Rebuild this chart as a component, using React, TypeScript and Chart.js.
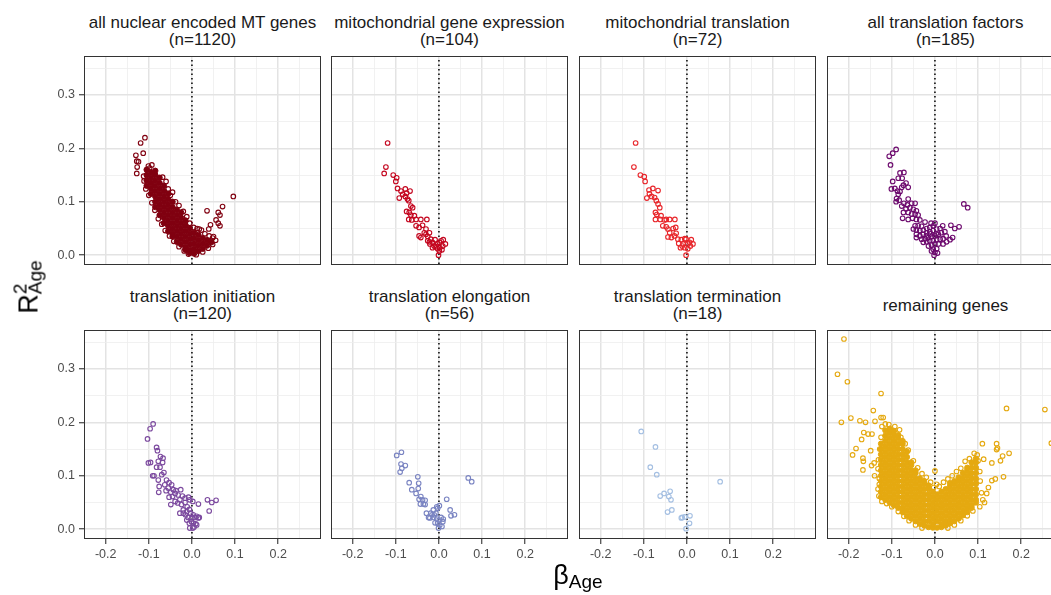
import React, { useEffect, useRef } from "react";
import { Chart, registerables } from "chart.js";

Chart.register(...registerables);

const FONT = '"Liberation Sans", Arial, Helvetica, sans-serif';

// ---------- data ----------
const PANEL_TITLES: string[][] = [
  ["all nuclear encoded MT genes", "(n=1120)"],
  ["mitochondrial gene expression", "(n=104)"],
  ["mitochondrial translation", "(n=72)"],
  ["all translation factors", "(n=185)"],
  ["translation initiation", "(n=120)"],
  ["translation elongation", "(n=56)"],
  ["translation termination", "(n=18)"],
  ["remaining genes"],
];

const PANEL_COLORS = [
  "#800010",
  "#c4061f",
  "#e8262b",
  "#6d0a6e",
  "#7c4a9f",
  "#7a84c2",
  "#a4bfe2",
  "#e5a910",
];

const X_MIN = -0.248;
const X_MAX = 0.297;
const Y_MIN = -0.0165;
const Y_MAX = 0.371;
const X_TICKS = [-0.2, -0.15, -0.1, -0.05, 0, 0.05, 0.1, 0.15, 0.2, 0.25];
const X_MAJOR = [-0.2, -0.1, 0, 0.1, 0.2];
const Y_TICKS = [0, 0.05, 0.1, 0.15, 0.2, 0.25, 0.3, 0.35];
const Y_MAJOR = [0, 0.1, 0.2, 0.3];
const VLINE_X = 0;

// panel 1: all nuclear encoded MT genes
const P1_POINTS: number[][] = [
  [-0.109, 0.22], [-0.119, 0.21], [-0.113, 0.191], [-0.13, 0.187], [-0.128, 0.176], [-0.124, 0.175],
  [-0.127, 0.165], [-0.128, 0.153], [-0.101, 0.167], [-0.093, 0.169], [-0.098, 0.163], [-0.111, 0.139],
  [-0.107, 0.124], [-0.096, 0.13], [-0.101, 0.156], [-0.112, 0.148], [-0.055, 0.124], [-0.06, 0.138],
  [-0.068, 0.146], [-0.05, 0.112], [-0.045, 0.118], [-0.038, 0.1], [-0.03, 0.093], [-0.02, 0.082],
  [-0.012, 0.072], [-0.005, 0.06], [0.004, 0.052], [0.012, 0.05], [0.022, 0.047], [0.03, 0.04],
  [0.04, 0.036], [0.048, 0.032], [0.055, 0.028], [-0.1, 0.112], [-0.093, 0.098], [-0.086, 0.084],
  [-0.078, 0.068], [-0.07, 0.058], [-0.062, 0.046], [-0.052, 0.036], [-0.042, 0.026], [-0.03, 0.016],
  [-0.018, 0.008], [-0.008, 0.002], [0.01, 0.001], [0.025, 0.006], [0.038, 0.013], [0.048, 0.02],
  [0.035, 0.083], [0.061, 0.08], [0.065, 0.075], [0.071, 0.091], [0.096, 0.11], [0.056, 0.066],
  [0.061, 0.06], [0.065, 0.055], [0.043, 0.057], [0.039, 0.049], [0.017, 0.049], [0.043, 0.027],
  [0.05, 0.035],
];
const P1_CORE_X = [-0.105, -0.095, -0.085, -0.075, -0.065, -0.055, -0.045, -0.035, -0.025, -0.015, -0.005, 0.005, 0.015, 0.025, 0.035, 0.045];
const P1_CORE_Y: number[][] = [
  [0.13, 0.14, 0.15, 0.16],
  [0.115, 0.125, 0.135, 0.145, 0.155],
  [0.09, 0.1, 0.11, 0.12, 0.13, 0.14, 0.15, 0.158],
  [0.075, 0.085, 0.095, 0.105, 0.115, 0.125, 0.135, 0.145],
  [0.06, 0.07, 0.08, 0.09, 0.1, 0.11, 0.12, 0.13],
  [0.045, 0.055, 0.065, 0.075, 0.085, 0.095, 0.105, 0.115],
  [0.035, 0.04, 0.05, 0.06, 0.07, 0.08, 0.09, 0.1],
  [0.025, 0.035, 0.045, 0.055, 0.065, 0.075, 0.085],
  [0.02, 0.03, 0.04, 0.05, 0.06, 0.07, 0.08],
  [0.01, 0.015, 0.025, 0.035, 0.045, 0.055, 0.065],
  [0.004, 0.01, 0.02, 0.03, 0.04, 0.05],
  [0.003, 0.012, 0.022, 0.032, 0.042],
  [0.008, 0.018, 0.028, 0.038],
  [0.012, 0.022, 0.032],
  [0.018, 0.028],
  [0.024],
];

// panel 2: mitochondrial gene expression
const P2_POINTS: number[][] = [
  [-0.119, 0.21], [-0.123, 0.165], [-0.127, 0.153], [-0.106, 0.15], [-0.098, 0.145], [-0.1, 0.138],
  [-0.096, 0.125], [-0.088, 0.12], [-0.078, 0.124], [-0.067, 0.12], [-0.075, 0.116], [-0.084, 0.114],
  [-0.092, 0.107], [-0.078, 0.11], [-0.073, 0.105], [-0.07, 0.102], [-0.065, 0.092], [-0.061, 0.089],
  [-0.069, 0.08], [-0.075, 0.082], [-0.065, 0.075], [-0.07, 0.067], [-0.057, 0.074], [-0.063, 0.066],
  [-0.053, 0.067], [-0.042, 0.067], [-0.028, 0.067], [-0.053, 0.055], [-0.046, 0.052], [-0.038, 0.056],
  [-0.03, 0.049], [-0.034, 0.042], [-0.046, 0.036], [-0.042, 0.033], [-0.03, 0.039], [-0.022, 0.042],
  [-0.026, 0.035], [-0.019, 0.03], [-0.022, 0.025], [-0.015, 0.024], [-0.009, 0.029], [-0.003, 0.021],
  [-0.011, 0.017], [-0.015, 0.014], [0.001, 0.024], [0.005, 0.027], [0.01, 0.029], [0.015, 0.021],
  [0.009, 0.017], [0.002, 0.014], [-0.003, 0.012], [-0.007, 0.016], [-0.001, 0.0], [0.001, 0.008],
  [0.007, 0.01], [-0.021, 0.021], [-0.026, 0.027],
];

// panel 3: mitochondrial translation
const P3_POINTS: number[][] = [
  [-0.119, 0.21], [-0.123, 0.165], [-0.108, 0.15], [-0.099, 0.147], [-0.097, 0.138], [-0.088, 0.122],
  [-0.079, 0.125], [-0.067, 0.121], [-0.087, 0.115], [-0.082, 0.11], [-0.093, 0.107], [-0.075, 0.108],
  [-0.071, 0.102], [-0.067, 0.096], [-0.063, 0.089], [-0.073, 0.08], [-0.07, 0.076], [-0.073, 0.067],
  [-0.06, 0.074], [-0.062, 0.067], [-0.052, 0.066], [-0.048, 0.067], [-0.04, 0.067], [-0.028, 0.067],
  [-0.056, 0.055], [-0.048, 0.053], [-0.044, 0.049], [-0.032, 0.05], [-0.026, 0.052], [-0.04, 0.042],
  [-0.044, 0.034], [-0.036, 0.033], [-0.029, 0.036], [-0.025, 0.041], [-0.021, 0.03], [-0.013, 0.029],
  [-0.005, 0.031], [-0.002, 0.03], [-0.019, 0.022], [-0.009, 0.021], [0.002, 0.021], [0.006, 0.024],
  [0.01, 0.029], [0.014, 0.021], [-0.005, 0.014], [0.002, 0.012], [0.008, 0.017], [-0.002, 0.0],
  [-0.015, 0.014], [-0.011, 0.017],
];

// panel 4: all translation factors
const P4_POINTS: number[][] = [
  [-0.09, 0.198], [-0.098, 0.191], [-0.106, 0.185], [-0.103, 0.169],
  [-0.081, 0.154], [-0.072, 0.155], [-0.085, 0.144], [-0.076, 0.144], [-0.098, 0.138], [-0.067, 0.135],
  [-0.073, 0.131], [-0.077, 0.127], [-0.062, 0.127], [-0.101, 0.124], [-0.093, 0.125], [-0.087, 0.12],
  [-0.081, 0.119], [-0.085, 0.114], [-0.089, 0.106], [-0.09, 0.1], [-0.083, 0.103],
  [-0.062, 0.105], [-0.072, 0.097], [-0.064, 0.094], [-0.054, 0.097], [-0.046, 0.097], [-0.077, 0.092],
  [-0.067, 0.087], [-0.058, 0.089], [-0.05, 0.086], [-0.043, 0.083], [-0.073, 0.08], [-0.062, 0.08],
  [-0.054, 0.077], [-0.046, 0.077], [-0.039, 0.075], [-0.075, 0.069], [-0.062, 0.067], [-0.052, 0.069],
  [-0.043, 0.067], [-0.035, 0.066], [-0.023, 0.062], [-0.009, 0.06], [0.0, 0.06],
  [-0.046, 0.055], [-0.039, 0.055], [-0.031, 0.054], [-0.05, 0.049], [-0.043, 0.047], [-0.035, 0.046],
  [-0.027, 0.047], [-0.019, 0.05], [-0.012, 0.052], [-0.004, 0.055], [-0.043, 0.039], [-0.035, 0.036],
  [-0.027, 0.039], [-0.019, 0.042], [-0.012, 0.044], [-0.004, 0.046], [0.004, 0.049], [0.012, 0.05],
  [-0.031, 0.03], [-0.023, 0.031], [-0.015, 0.033], [-0.008, 0.035], [0.0, 0.036], [0.008, 0.039],
  [0.015, 0.042], [0.023, 0.044], [-0.027, 0.024], [-0.019, 0.025], [-0.012, 0.027], [-0.004, 0.027],
  [0.004, 0.029], [0.012, 0.03], [0.019, 0.031], [-0.015, 0.017], [-0.008, 0.019], [0.0, 0.021],
  [0.008, 0.021], [-0.004, 0.011], [0.004, 0.012], [0.0, 0.005], [-0.002, 0.0], [-0.008, 0.008],
  [0.006, 0.004], [-0.02, 0.036], [-0.01, 0.04], [0.003, 0.04],
  [0.067, 0.096], [0.076, 0.089], [0.037, 0.056], [0.046, 0.05], [0.056, 0.053], [0.018, 0.055],
  [0.026, 0.036], [0.035, 0.029], [0.041, 0.033], [0.027, 0.025], [0.019, 0.021], [-0.043, 0.033],
];

// panel 5: translation initiation
const P5_POINTS: number[][] = [
  [-0.09, 0.197], [-0.097, 0.188], [-0.103, 0.169], [-0.082, 0.153], [-0.08, 0.147], [-0.101, 0.124],
  [-0.096, 0.125], [-0.073, 0.136], [-0.067, 0.133], [-0.078, 0.127], [-0.068, 0.125], [-0.082, 0.116],
  [-0.074, 0.116], [-0.091, 0.1], [-0.088, 0.1], [-0.065, 0.106], [-0.07, 0.102], [-0.078, 0.092],
  [-0.076, 0.08], [-0.077, 0.069],
  [-0.059, 0.092], [-0.053, 0.087], [-0.063, 0.083], [-0.055, 0.077], [-0.047, 0.083], [-0.043, 0.074],
  [-0.06, 0.072], [-0.049, 0.069], [-0.039, 0.067], [-0.037, 0.072], [-0.026, 0.074], [-0.032, 0.064],
  [-0.022, 0.062], [-0.028, 0.055], [-0.016, 0.058], [-0.045, 0.061], [-0.053, 0.06], [-0.039, 0.052],
  [-0.049, 0.046], [-0.033, 0.049], [-0.024, 0.046], [-0.016, 0.05], [-0.011, 0.042], [-0.02, 0.036],
  [-0.028, 0.03], [-0.012, 0.033], [-0.006, 0.037], [-0.003, 0.03], [0.003, 0.027], [0.0, 0.021],
  [-0.009, 0.022], [-0.015, 0.027], [0.007, 0.022], [0.011, 0.024], [0.015, 0.021], [0.017, 0.022],
  [-0.001, 0.014], [0.003, 0.011], [-0.005, 0.002], [0.002, 0.002], [0.005, 0.004], [0.009, 0.01],
  [0.011, 0.008], [-0.006, 0.011], [-0.012, 0.017], [-0.02, 0.03], [-0.008, 0.06], [-0.005, 0.055],
  [0.002, 0.052], [0.015, 0.047], [0.036, 0.055], [0.046, 0.05], [0.056, 0.054], [0.04, 0.034],
];

// panel 6: translation elongation
const P6_POINTS: number[][] = [
  [-0.098, 0.138], [-0.087, 0.144], [-0.088, 0.122], [-0.078, 0.119], [-0.086, 0.114], [-0.09, 0.107],
  [-0.049, 0.098], [-0.047, 0.086], [-0.048, 0.076], [-0.069, 0.087], [-0.063, 0.074], [-0.053, 0.067],
  [-0.042, 0.061], [-0.038, 0.055], [-0.046, 0.056], [-0.032, 0.054], [-0.043, 0.047], [-0.036, 0.047],
  [-0.032, 0.046], [-0.029, 0.03], [-0.024, 0.022], [-0.021, 0.021], [-0.016, 0.027], [-0.012, 0.022],
  [-0.007, 0.03], [-0.013, 0.036], [-0.005, 0.042], [0.001, 0.044], [-0.003, 0.039], [-0.019, 0.03],
  [-0.011, 0.027], [-0.005, 0.019], [0.001, 0.017], [0.005, 0.022], [0.009, 0.014], [-0.003, 0.011],
  [0.002, 0.008], [0.007, 0.005], [-0.009, 0.012], [-0.001, 0.002], [0.01, 0.019], [0.018, 0.056],
  [0.026, 0.036], [0.028, 0.025], [0.036, 0.027], [0.068, 0.096], [0.076, 0.089],
];

// panel 7: translation termination
const P7_POINTS: number[][] = [
  [-0.106, 0.183], [-0.073, 0.154], [-0.085, 0.116], [-0.07, 0.102], [-0.039, 0.071], [-0.053, 0.067],
  [-0.062, 0.062], [-0.042, 0.061], [-0.037, 0.055], [-0.035, 0.036], [-0.045, 0.032], [-0.011, 0.022],
  [-0.005, 0.023], [-0.013, 0.021], [0.007, 0.025], [0.006, 0.011], [-0.002, 0.001], [0.077, 0.089],
];

// panel 8: remaining genes
const P8_POINTS: number[][] = [
  [-0.211, 0.356], [-0.226, 0.29], [-0.203, 0.276], [-0.125, 0.254], [-0.143, 0.222], [-0.195, 0.208],
  [-0.217, 0.2], [-0.174, 0.203], [-0.161, 0.2], [-0.139, 0.202], [-0.125, 0.209], [-0.12, 0.209],
  [-0.17, 0.168], [-0.165, 0.181], [-0.155, 0.178], [-0.146, 0.178], [-0.183, 0.151], [-0.191, 0.139],
  [-0.167, 0.133], [-0.166, 0.127], [-0.167, 0.111], [-0.149, 0.147], [-0.141, 0.124], [-0.147, 0.119],
  [-0.14, 0.1], [-0.129, 0.084], [-0.132, 0.113],
  [0.166, 0.226], [0.255, 0.224], [0.27, 0.161], [0.11, 0.16], [0.143, 0.16], [0.145, 0.152],
  [0.143, 0.149], [0.172, 0.142], [0.157, 0.137], [0.152, 0.128], [0.098, 0.139], [0.113, 0.131],
  [0.132, 0.124], [0.07, 0.127], [0.159, 0.098], [0.14, 0.094], [0.132, 0.091], [0.124, 0.078],
  [0.12, 0.067], [0.115, 0.05], [0.0, 0.109],
  [-0.123, 0.192], [-0.115, 0.197], [-0.107, 0.196], [-0.093, 0.192], [-0.082, 0.186], [-0.079, 0.172],
  [-0.069, 0.16], [-0.062, 0.148], [-0.05, 0.128], [-0.04, 0.115], [-0.03, 0.104], [-0.02, 0.097],
  [-0.01, 0.088], [-0.003, 0.078], [0.01, 0.08], [0.02, 0.088], [0.03, 0.094], [0.04, 0.1],
  [0.05, 0.108], [0.06, 0.114], [0.08, 0.132], [0.091, 0.142], [0.1, 0.128], [0.104, 0.108],
  [0.105, 0.09], [0.108, 0.068], [0.111, 0.055], [0.104, 0.042], [0.088, 0.034], [0.075, 0.025],
  [0.06, 0.016], [0.045, 0.008], [0.03, 0.002], [-0.03, 0.002], [-0.045, 0.008], [-0.06, 0.016],
  [-0.072, 0.024], [-0.085, 0.033], [-0.1, 0.042], [-0.112, 0.048], [-0.123, 0.052], [-0.13, 0.062],
  [-0.132, 0.075], [-0.129, 0.095], [-0.131, 0.13], [-0.128, 0.15], [-0.125, 0.172], [0.004, 0.084],
];
const P8_CORE_X = [-0.125, -0.115, -0.105, -0.095, -0.085, -0.075, -0.065, -0.055, -0.045, -0.035, -0.025, -0.015, -0.005, 0.005, 0.015, 0.025, 0.035, 0.045, 0.055, 0.065, 0.075, 0.085, 0.095];
const P8_CORE_Y: number[][] = [
  [0.06, 0.07, 0.08, 0.09, 0.1, 0.11, 0.12, 0.13, 0.14, 0.15, 0.16],
  [0.055, 0.065, 0.075, 0.085, 0.095, 0.105, 0.115, 0.125, 0.135, 0.145, 0.155, 0.165, 0.175, 0.185],
  [0.05, 0.06, 0.07, 0.08, 0.09, 0.1, 0.11, 0.12, 0.13, 0.14, 0.15, 0.16, 0.17, 0.18, 0.188],
  [0.045, 0.055, 0.065, 0.075, 0.085, 0.095, 0.105, 0.115, 0.125, 0.135, 0.145, 0.155, 0.165, 0.175, 0.184],
  [0.04, 0.05, 0.06, 0.07, 0.08, 0.09, 0.1, 0.11, 0.12, 0.13, 0.14, 0.15, 0.16, 0.17, 0.176],
  [0.032, 0.04, 0.05, 0.06, 0.07, 0.08, 0.09, 0.1, 0.11, 0.12, 0.13, 0.14, 0.15, 0.16, 0.165],
  [0.025, 0.035, 0.045, 0.055, 0.065, 0.075, 0.085, 0.095, 0.105, 0.115, 0.125, 0.135, 0.145],
  [0.02, 0.03, 0.04, 0.05, 0.06, 0.07, 0.08, 0.09, 0.1, 0.11, 0.12, 0.125],
  [0.015, 0.025, 0.035, 0.045, 0.055, 0.065, 0.075, 0.085, 0.095, 0.105, 0.11],
  [0.01, 0.02, 0.03, 0.04, 0.05, 0.06, 0.07, 0.08, 0.09, 0.095],
  [0.007, 0.015, 0.025, 0.035, 0.045, 0.055, 0.065, 0.075, 0.085, 0.09],
  [0.004, 0.015, 0.025, 0.035, 0.045, 0.055, 0.065, 0.075, 0.082],
  [0.003, 0.01, 0.02, 0.03, 0.04, 0.05, 0.06, 0.07],
  [0.003, 0.015, 0.025, 0.035, 0.045, 0.055, 0.065],
  [0.004, 0.01, 0.02, 0.03, 0.04, 0.05, 0.06, 0.07],
  [0.007, 0.015, 0.025, 0.035, 0.045, 0.055, 0.065, 0.075],
  [0.011, 0.02, 0.03, 0.04, 0.05, 0.06, 0.07, 0.08, 0.086],
  [0.015, 0.025, 0.035, 0.045, 0.055, 0.065, 0.075, 0.085, 0.09],
  [0.02, 0.03, 0.04, 0.05, 0.06, 0.07, 0.08, 0.09, 0.097],
  [0.026, 0.035, 0.045, 0.055, 0.065, 0.075, 0.085, 0.095, 0.105],
  [0.032, 0.04, 0.05, 0.06, 0.07, 0.08, 0.09, 0.1, 0.11, 0.115],
  [0.04, 0.045, 0.055, 0.065, 0.075, 0.085, 0.095, 0.105, 0.115, 0.125],
  [0.05, 0.055, 0.065, 0.075, 0.085, 0.095, 0.105, 0.115, 0.125, 0.132],
];

const PANEL_POINTS = [P1_POINTS, P2_POINTS, P3_POINTS, P4_POINTS, P5_POINTS, P6_POINTS, P7_POINTS, P8_POINTS];
const PANEL_CORE: (null | [number[], number[][]])[] = [
  [P1_CORE_X, P1_CORE_Y], null, null, null, null, null, null, [P8_CORE_X, P8_CORE_Y],
];

// ---------- layout (styling) ----------
const COL_X = [85, 332, 580, 828];
const ROW_Y = [57, 331];
const PW = 235;
const PH = 207;

const isIn = (list: number[], v: number) => list.some((m) => Math.abs(m - v) < 1e-9);

const framePlugin = {
  id: "frame",
  afterDatasetsDraw(chart: any) {
    const { ctx, chartArea: a } = chart;
    ctx.save();
    ctx.strokeStyle = "#333333";
    ctx.lineWidth = 1;
    ctx.strokeRect(a.left - 0.5, a.top - 0.5, a.right - a.left + 1, a.bottom - a.top + 1);
    ctx.restore();
  },
};

function Panel({ idx }: { idx: number }) {
  const ref = useRef<HTMLCanvasElement | null>(null);
  const col = idx % 4;
  const row = Math.floor(idx / 4);
  const lp = col === 0 ? 50 : 12;
  const rp = 12;
  const tp = 12;
  const bp = row === 1 ? 32 : 12;
  const w = PW + lp + rp;
  const h = PH + tp + bp;

  useEffect(() => {
    const color = PANEL_COLORS[idx];
    const open = PANEL_POINTS[idx].map(([x, y]) => ({ x, y }));
    const coreDef = PANEL_CORE[idx];
    const core = coreDef ? coreDef[0].flatMap((x, i) => coreDef[1][i].map((y) => ({ x, y }))) : [];
    const showY = col === 0;
    const showX = row === 1;
    const gridCommon = (major: number[], outer: boolean) => ({
      color: (c: any) => (isIn(major, c.tick.value) ? "#e3e3e3" : "#eeeeee"),
      lineWidth: (c: any) => (isIn(major, c.tick.value) ? 1.5 : 0.8),
      tickColor: (c: any) => (isIn(major, c.tick.value) ? "#333333" : "rgba(0,0,0,0)"),
      tickWidth: 1.1,
      tickLength: 6,
      drawTicks: outer,
    });
    const chart = new Chart(ref.current as HTMLCanvasElement, {
      type: "scatter",
      data: {
        datasets: [
          {
            data: open,
            pointRadius: 2.3,
            pointBorderWidth: 1.1,
            pointBorderColor: color,
            pointBackgroundColor: "rgba(0,0,0,0)",
            clip: 0,
          } as any,
          {
            data: core,
            pointRadius: 2.7,
            pointBorderWidth: 1,
            pointBorderColor: color,
            pointBackgroundColor: color,
            clip: 0,
          } as any,
          {
            type: "line",
            data: [
              { x: VLINE_X, y: Y_MIN },
              { x: VLINE_X, y: Y_MAX },
            ],
            borderColor: "#000000",
            borderWidth: 1.5,
            borderDash: [1.5, 3],
            pointRadius: 0,
            fill: false,
            clip: 0,
          } as any,
        ],
      },
      options: {
        responsive: false,
        animation: false,
        devicePixelRatio: 1,
        events: [],
        layout: { padding: { left: 0, right: rp, top: tp, bottom: 0 } },
        plugins: { legend: { display: false }, tooltip: { enabled: false } },
        scales: {
          x: {
            type: "linear",
            min: X_MIN,
            max: X_MAX,
            afterBuildTicks: (s: any) => {
              s.ticks = X_TICKS.map((v) => ({ value: v }));
            },
            afterFit: (s: any) => {
              s.height = bp;
            },
            border: { display: false },
            grid: gridCommon(X_MAJOR, showX),
            ticks: {
              display: showX,
              autoSkip: false,
              maxRotation: 0,
              minRotation: 0,
              padding: 3,
              color: "#4d4d4d",
              font: { family: FONT, size: 12.5 },
              callback: (v: any) => (isIn(X_MAJOR, Number(v)) ? Number(v).toFixed(1) : ""),
            },
          },
          y: {
            type: "linear",
            min: Y_MIN,
            max: Y_MAX,
            afterBuildTicks: (s: any) => {
              s.ticks = Y_TICKS.map((v) => ({ value: v }));
            },
            afterFit: (s: any) => {
              s.width = lp;
            },
            border: { display: false },
            grid: gridCommon(Y_MAJOR, showY),
            ticks: {
              display: showY,
              autoSkip: false,
              padding: 4,
              color: "#4d4d4d",
              font: { family: FONT, size: 12.5 },
              callback: (v: any) => (isIn(Y_MAJOR, Number(v)) ? Number(v).toFixed(1) : ""),
            },
          },
        },
      } as any,
      plugins: [framePlugin],
    });
    return () => chart.destroy();
  }, []);

  return (
    <canvas
      ref={ref}
      width={w}
      height={h}
      style={{ position: "absolute", left: COL_X[col] - lp, top: ROW_Y[row] - tp, width: w, height: h }}
    />
  );
}

export default function App() {
  return (
    <div
      style={{
        position: "absolute",
        left: 0,
        top: 0,
        width: 1051,
        height: 595,
        overflow: "hidden",
        background: "#ffffff",
        fontFamily: FONT,
      }}
    >
      {PANEL_TITLES.map((lines, i) => {
        const col = i % 4;
        const row = Math.floor(i / 4);
        return (
          <div
            key={"t" + i}
            style={{
              position: "absolute",
              left: COL_X[col] - 10,
              width: PW + 20,
              top: ROW_Y[row] - 44,
              height: 36,
              display: "flex",
              flexDirection: "column",
              justifyContent: "center",
              alignItems: "center",
              fontSize: 17,
              lineHeight: "17px",
              color: "#1a1a1a",
              whiteSpace: "nowrap",
            }}
          >
            {lines.map((l, j) => (
              <div key={j}>{l}</div>
            ))}
          </div>
        );
      })}
      {PANEL_TITLES.map((_, i) => (
        <Panel key={"p" + i} idx={i} />
      ))}
      <div
        style={{
          position: "absolute",
          left: 578,
          top: 560,
          transform: "translateX(-50%)",
          whiteSpace: "nowrap",
          color: "#000",
          fontSize: 27,
          lineHeight: "30px",
        }}
      >
        <span>β</span>
        <span style={{ fontSize: 19, lineHeight: 1, verticalAlign: "-4px" }}>Age</span>
      </div>
      <div
        style={{
          position: "absolute",
          left: 28,
          top: 287,
          transform: "translate(-50%, -50%) rotate(-90deg)",
          whiteSpace: "nowrap",
          color: "#000",
          fontSize: 27,
          lineHeight: "30px",
        }}
      >
        <span>R</span>
        <span
          style={{
            display: "inline-flex",
            flexDirection: "column",
            alignItems: "flex-start",
            fontSize: 19,
            lineHeight: "15px",
            verticalAlign: "11px",
          }}
        >
          <span>2</span>
          <span>Age</span>
        </span>
      </div>
    </div>
  );
}
